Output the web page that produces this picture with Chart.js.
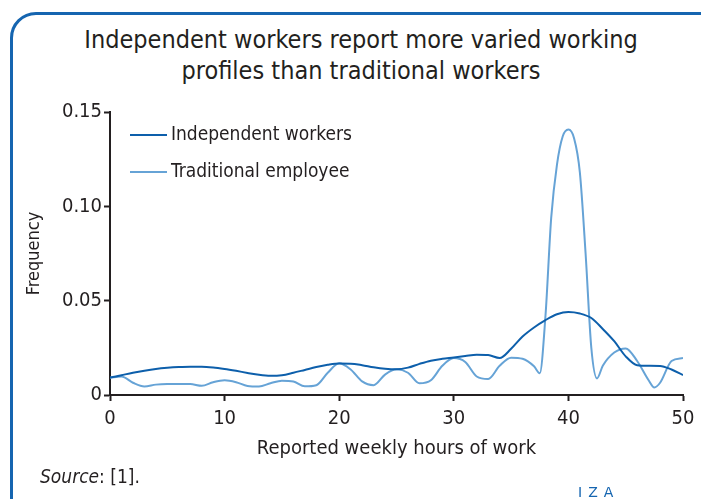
<!DOCTYPE html>
<html lang="en">
<head>
<meta charset="UTF-8">
<title>Independent vs traditional workers</title>
<script src="https://cdn.jsdelivr.net/npm/chart.js"></script>
<style>
  html, body { margin: 0; padding: 0; background: #fff; }
  #wrap { position: relative; width: 701px; height: 499px; overflow: hidden; font-family: "DejaVu Sans Condensed", "Liberation Sans Narrow", sans-serif; }
  #frame { position: absolute; left: 10px; top: 12px; width: 720px; height: 520px; border: 3px solid #1565b0; border-radius: 26px; box-sizing: border-box; }
  #title { position: absolute; left: 0; top: 24px; width: 722px; text-align: center; font-size: 25px; line-height: 31px; color: #231f20; }
  #source { position: absolute; left: 40px; top: 465px; font-size: 19px; color: #231f20; }
  #iza { position: absolute; left: 578px; top: 484px; font-size: 14px; color: #1565b0; letter-spacing: 6px; font-family: "DejaVu Sans", sans-serif; }
  #chartBox { position: absolute; left: 0; top: 0; width: 701px; height: 499px; }
</style>
</head>
<body>
<div id="wrap">
  <div id="frame"></div>
  <div id="title">Independent workers report more varied working<br>profiles than traditional workers</div>
  <div id="chartBox"><canvas id="densityChart"></canvas></div>
  <div id="source"><i>Source</i>: [1].</div>
  <div id="iza">IZA</div>
</div>
<script>
// weekly hours (x) and estimated density values
var independentHours = [0,1,2,3,4,5,6,7,8,9,10,11,12,13,14,15,16,17,18,19,20,21,22,23,24,25,26,27,28,29,30,31,32,33,34,35,36,37,38,39,40,41,42,43,44,45,46,47,48,49,50];
var independentValues = [0.0092,0.0105,0.0118,0.0129,0.0138,0.0144,0.0148,0.015,0.015,0.0146,0.0138,0.0128,0.0117,0.0107,0.0102,0.0105,0.0118,0.0133,0.0148,0.016,0.0167,0.0166,0.0158,0.0147,0.0139,0.0136,0.0145,0.0165,0.0182,0.0192,0.0199,0.0207,0.0214,0.0212,0.0196,0.0245,0.031,0.0358,0.0397,0.0428,0.044,0.0432,0.0408,0.035,0.0285,0.0205,0.0158,0.0155,0.0154,0.0135,0.0106];

var traditionalHours = [0,1,2,3,4,5,6,7,8,9,10,11,12,13,14,15,16,17,18,19,20,21,22,23,24,25,26,27,28,29,30,31,32,33,34,35,36,37,37.5,38,38.5,39,39.5,40,40.5,41,41.5,42,42.5,43,44,45,46,47,47.5,48,49,50];
var traditionalValues = [0.0092,0.0098,0.0065,0.0045,0.0055,0.0058,0.0058,0.0058,0.0049,0.0068,0.0078,0.0068,0.0048,0.0045,0.0062,0.0076,0.0072,0.0046,0.0052,0.0118,0.0168,0.0135,0.0072,0.0052,0.0108,0.0136,0.0118,0.0062,0.0078,0.0155,0.0196,0.0175,0.0098,0.0085,0.0155,0.0198,0.0192,0.0152,0.0115,0.042,0.094,0.122,0.137,0.1407,0.136,0.118,0.075,0.025,0.0088,0.0155,0.0225,0.0247,0.018,0.0078,0.004,0.0065,0.018,0.0196];

var seriesLabels = ['Independent workers', 'Traditional employee'];
var xTicks = [0, 10, 20, 30, 40, 50];
var yTicks = [0, 0.05, 0.10, 0.15];

function toPoints(xs, ys) {
  return xs.map(function (x, i) { return { x: x, y: ys[i] }; });
}

var FONT = '"DejaVu Sans Condensed", "Liberation Sans Narrow", sans-serif';

// legend drawn inside the plot area, top-left
var insideLegend = {
  id: 'insideLegend',
  afterDraw: function (chart) {
    var ctx = chart.ctx;
    var left = chart.chartArea.left + 20;
    ctx.save();
    ctx.font = '19px ' + FONT;
    ctx.textBaseline = 'middle';
    chart.data.datasets.forEach(function (ds, i) {
      var y = chart.chartArea.top + 23 + i * 37;
      ctx.strokeStyle = ds.borderColor;
      ctx.lineWidth = ds.borderWidth;
      ctx.beginPath();
      ctx.moveTo(left, y);
      ctx.lineTo(left + 37, y);
      ctx.stroke();
      ctx.fillStyle = '#231f20';
      ctx.fillText(ds.label, left + 41, y);
    });
    ctx.restore();
  }
};

var ctx = document.getElementById('densityChart').getContext('2d');
var densityChart = new Chart(ctx, {
  type: 'line',
  data: {
    datasets: [{
      label: seriesLabels[0],
      data: toPoints(independentHours, independentValues),
      borderColor: '#0d5fab',
      borderWidth: 2,
      pointRadius: 0,
      cubicInterpolationMode: 'monotone',
      fill: false
    }, {
      label: seriesLabels[1],
      data: toPoints(traditionalHours, traditionalValues),
      borderColor: '#66a3d6',
      borderWidth: 2,
      pointRadius: 0,
      cubicInterpolationMode: 'monotone',
      fill: false
    }]
  },
  options: {
    responsive: true,
    maintainAspectRatio: false,
    animation: false,
    layout: { padding: { left: 20, right: 18, top: 112, bottom: 34 } },
    plugins: {
      legend: { display: false },
      tooltip: { enabled: false }
    },
    scales: {
      x: {
        type: 'linear',
        min: 0,
        max: 50,
        afterBuildTicks: function (axis) { axis.ticks = xTicks.map(function (v) { return { value: v }; }); },
        afterFit: function (axis) { axis.height = 70; },
        grid: { drawOnChartArea: false, color: '#231f20', tickLength: 6, tickWidth: 2 },
        border: { color: '#231f20', width: 2 },
        ticks: { color: '#231f20', font: { family: FONT, size: 20 }, padding: 6, maxRotation: 0 },
        title: { display: true, text: 'Reported weekly hours of work', color: '#231f20', font: { family: FONT, size: 20 }, padding: { top: 6 } }
      },
      y: {
        min: 0,
        max: 0.15,
        afterBuildTicks: function (axis) { axis.ticks = yTicks.map(function (v) { return { value: v }; }); },
        afterFit: function (axis) { axis.width = 90; },
        grid: { drawOnChartArea: false, color: '#231f20', tickLength: 6, tickWidth: 2 },
        border: { color: '#231f20', width: 2 },
        ticks: {
          color: '#231f20',
          font: { family: FONT, size: 20 },
          padding: 2,
          callback: function (v) { return v === 0 ? '0' : v.toFixed(2); }
        },
        title: { display: true, text: 'Frequency', color: '#231f20', font: { family: FONT, size: 18 }, padding: { bottom: 0 } }
      }
    }
  },
  plugins: [insideLegend]
});
</script>
</body>
</html>
